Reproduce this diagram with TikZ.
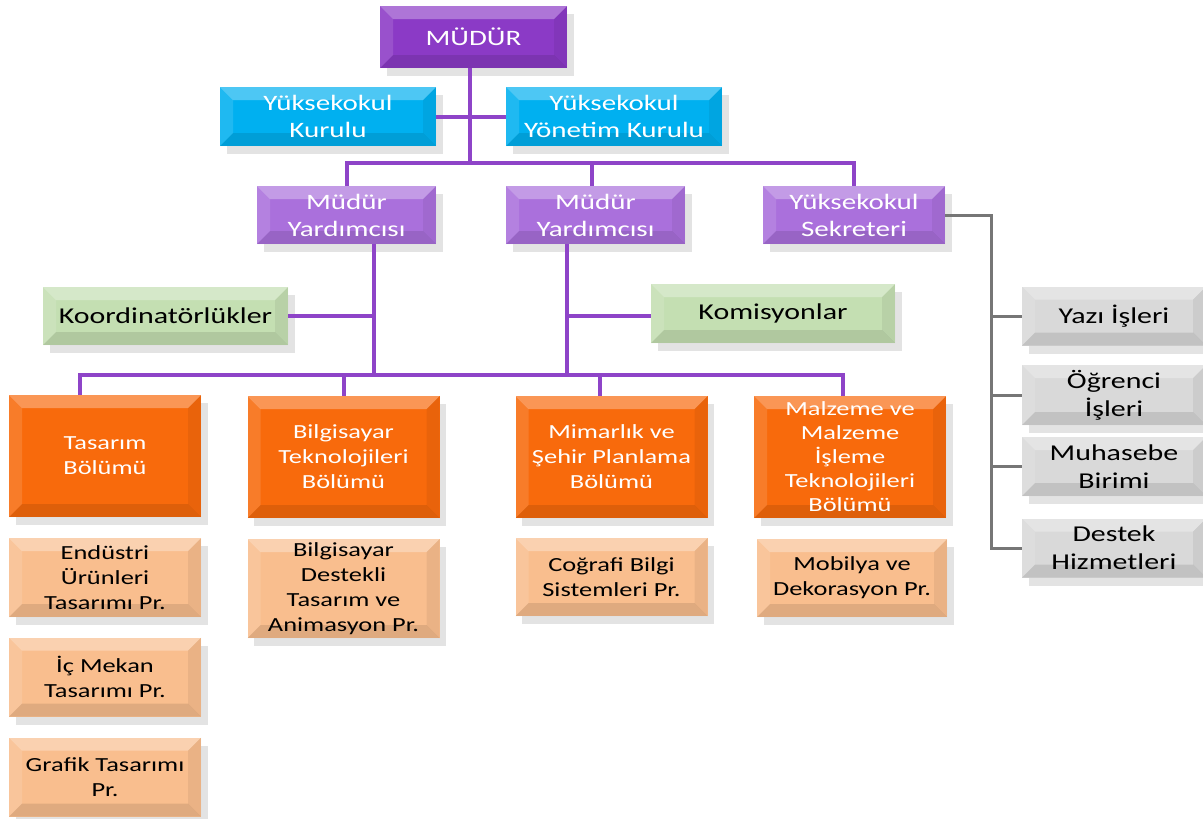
\documentclass[tikz,border=0pt]{standalone}
\usepackage{fontspec}
\setmainfont[FakeStretch=1.32]{Carlito}
\usepackage{tikz}
\usetikzlibrary{positioning,shadows}

\definecolor{mudurpurple}{RGB}{139,58,198}
\definecolor{boardblue}{RGB}{0,176,240}
\definecolor{deputypurple}{RGB}{170,112,220}
\definecolor{commgreen}{RGB}{196,223,178}
\definecolor{deptorange}{RGB}{248,106,12}
\definecolor{progtan}{RGB}{249,190,142}
\definecolor{unitgray}{RGB}{217,217,217}
\definecolor{linepurple}{RGB}{142,68,200}
\definecolor{linegray}{RGB}{118,118,118}

\tikzset{
  bevel/.style={path picture={
    \coordinate (bnw) at (path picture bounding box.north west);
    \coordinate (bne) at (path picture bounding box.north east);
    \coordinate (bsw) at (path picture bounding box.south west);
    \coordinate (bse) at (path picture bounding box.south east);
    \fill[white,opacity=.3] (bnw) -- (bne) -- ([shift={(-13,-13)}]bne) -- ([shift={(13,-13)}]bnw) -- cycle;
    \fill[white,opacity=.12] (bnw) -- (bsw) -- ([shift={(13,13)}]bsw) -- ([shift={(13,-13)}]bnw) -- cycle;
    \fill[black,opacity=.06] (bne) -- (bse) -- ([shift={(-13,13)}]bse) -- ([shift={(-13,-13)}]bne) -- cycle;
    \fill[black,opacity=.1] (bsw) -- (bse) -- ([shift={(-13,13)}]bse) -- ([shift={(13,13)}]bsw) -- cycle;
  }},
  box/.style={rectangle, inner sep=0pt, align=center, bevel,
    drop shadow={opacity=.22,shadow xshift=5pt,shadow yshift=-6pt}},
  headbox/.style={box, fill=mudurpurple, text=white, font=\fontsize{16.5}{20}\selectfont},
  boardbox/.style={box, fill=boardblue, text=white, font=\fontsize{16.5}{20.25}\selectfont,
    minimum width=162pt, minimum height=44.25pt},
  deputybox/.style={box, fill=deputypurple, text=white, font=\fontsize{16.5}{20.25}\selectfont,
    minimum height=43.5pt},
  commbox/.style={box, fill=commgreen, text=black, font=\fontsize{17}{21}\selectfont},
  deptbox/.style={box, fill=deptorange, text=white, font=\fontsize{15}{18.75}\selectfont,
    minimum width=144pt, minimum height=91.5pt},
  progbox/.style={box, fill=progtan, text=black, font=\fontsize{15}{18.75}\selectfont,
    minimum width=144pt, minimum height=59.25pt},
  unitbox/.style={box, fill=unitgray, text=black, font=\fontsize{17}{21}\selectfont,
    minimum width=138pt, minimum height=44.25pt},
  conn/.style={draw=linepurple, line width=3pt},
  sconn/.style={draw=linegray, line width=2.25pt}
}

\begin{document}
\begin{tikzpicture}[x=0.75pt,y=0.75pt,yscale=-1,xscale=1]
\useasboundingbox (0,0) rectangle (1203,818);

% Text Node
\node [headbox, minimum width=140.25pt, minimum height=46.5pt] (mudur) at (473.5,37) {MÜDÜR};
% Text Node
\node [boardbox] (kurul) at (328,116.5) {Yüksekokul\\Kurulu};
% Text Node
\node [boardbox] (ykurul) at (614,116.5) {Yüksekokul\\Yönetim Kurulu};
% Text Node
\node [deputybox, minimum width=134.25pt] (myard1) at (346.5,215) {Müdür\\Yardımcısı};
% Text Node
\node [deputybox, minimum width=134.25pt] (myard2) at (595.5,215) {Müdür\\Yardımcısı};
% Text Node
\node [deputybox, minimum width=136.5pt] (sekreter) at (854,215) {Yüksekokul\\Sekreteri};
% Text Node
\node [commbox, minimum width=183.75pt, minimum height=43.5pt] (koord) at (165.5,316) {Koordinatörlükler};
% Text Node
\node [commbox, minimum width=183pt, minimum height=44.25pt] (komis) at (773,313.5) {Komisyonlar};

% Text Node
\node [unitbox] (yazi) at (1114,316) {Yazı İşleri};
% Text Node
\node [unitbox, minimum height=45pt] (ogrenci) at (1114,395) {Öğrenci\\İşleri};
% Text Node
\node [unitbox] (muhasebe) at (1114,466.5) {Muhasebe\\Birimi};
% Text Node
\node [unitbox] (destek) at (1114,548) {Destek\\Hizmetleri};

% Text Node
\node [deptbox] (tasarim) at (105,456) {Tasarım\\Bölümü};
% Text Node
\node [deptbox] (bilg) at (343.5,457) {Bilgisayar\\Teknolojileri\\Bölümü};
% Text Node
\node [deptbox] (mimar) at (611.5,457) {Mimarlık ve\\Şehir Planlama\\Bölümü};
% Text Node
\node [deptbox, font=\fontsize{15}{18}\selectfont] (malz) at (850,457) {Malzeme ve\\Malzeme\\İşleme\\Teknolojileri\\Bölümü};

% Text Node
\node [progbox] (endus) at (105,577.5) {Endüstri\\Ürünleri\\Tasarımı Pr.};
% Text Node
\node [progbox] (icmekan) at (105,677) {İç Mekan\\Tasarımı Pr.};
% Text Node
\node [progbox] (grafik) at (105,777) {Grafik Tasarımı\\Pr.};
% Text Node
\node [progbox, minimum height=74.25pt] (bdest) at (343.5,588.5) {Bilgisayar\\Destekli\\Tasarım ve\\Animasyon Pr.};
% Text Node
\node [progbox, minimum height=58.5pt] (cograf) at (611.5,577) {Coğrafi Bilgi\\Sistemleri Pr.};
% Text Node
\node [progbox, minimum width=142.5pt, minimum height=58.5pt] (mobil) at (852,578) {Mobilya ve\\Dekorasyon Pr.};

\coordinate (trunk) at (470,163);
\coordinate (yard1bus) at (374,375);
\coordinate (yard2bus) at (567,375);
\coordinate (sekbus) at (991,215);

%Straight Lines
\draw [conn] (mudur.south -| trunk) -- (trunk);
\draw [conn] (kurul.east) -- (ykurul.west);
\draw [conn] (trunk) -| (myard1.north);
\draw [conn] (trunk) -| ([xshift=-2.5pt]myard2.north);
\draw [conn] (trunk) -| (sekreter.north);

%Straight Lines
\draw [conn] (myard1.south -| yard1bus) -- (yard1bus);
\draw [conn] (koord.east) -- (koord.east -| yard1bus);
\draw [conn] (myard2.south -| yard2bus) -- (yard2bus);
\draw [conn] (komis.west |- 0,316) -- (yard2bus |- 0,316);
\draw [conn] (yard1bus) -- (yard2bus);
\draw [conn] (yard1bus) -| ([xshift=-18.75pt]tasarim.north);
\draw [conn] (yard1bus) -| (bilg.north);
\draw [conn] (yard2bus) -| ([xshift=-9pt]mimar.north);
\draw [conn] (yard2bus) -| ([xshift=-5.25pt]malz.north);

%Straight Lines
\draw [sconn] (sekreter.east) -- (sekbus) |- (destek.west);
\draw [sconn] (sekbus) |- (yazi.west);
\draw [sconn] (sekbus) |- (ogrenci.west);
\draw [sconn] (sekbus) |- (muhasebe.west);

\end{tikzpicture}
\end{document}
